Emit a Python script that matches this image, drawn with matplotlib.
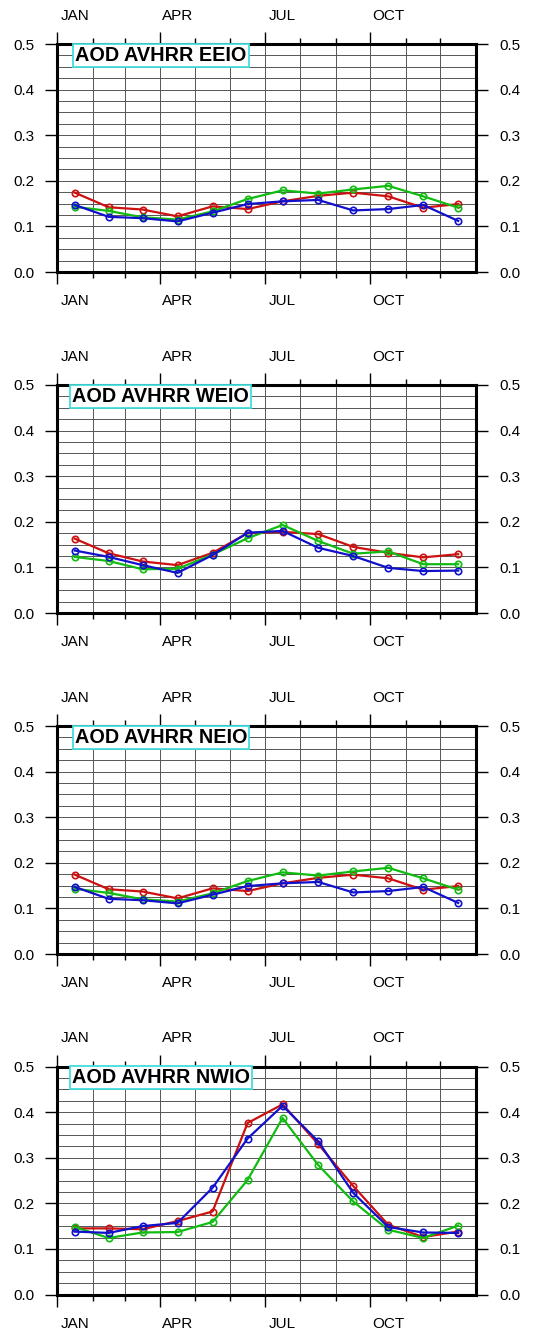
import matplotlib
matplotlib.use("Agg")
import matplotlib.pyplot as plt
import numpy as np

plt.rcParams.update({"font.family": ["Liberation Sans", "DejaVu Sans"]})

# month layout (day-of-year axis, non-leap year)
month_days = [31, 28, 31, 30, 31, 30, 31, 31, 30, 31, 30, 31]
month_names = ["JAN", "FEB", "MAR", "APR", "MAY", "JUN",
               "JUL", "AUG", "SEP", "OCT", "NOV", "DEC"]
labelled = ["JAN", "APR", "JUL", "OCT"]

# monthly AOD, three series per region
eeio_red = [0.174, 0.142, 0.137, 0.122, 0.144, 0.138, 0.155, 0.167, 0.174, 0.166, 0.141, 0.149]
eeio_green = [0.143, 0.134, 0.120, 0.115, 0.133, 0.160, 0.179, 0.172, 0.181, 0.189, 0.166, 0.141]
eeio_blue = [0.147, 0.121, 0.118, 0.111, 0.130, 0.149, 0.155, 0.158, 0.135, 0.138, 0.147, 0.112]

weio_red = [0.163, 0.131, 0.113, 0.105, 0.132, 0.175, 0.178, 0.173, 0.145, 0.132, 0.122, 0.129]
weio_green = [0.123, 0.114, 0.096, 0.097, 0.128, 0.164, 0.193, 0.158, 0.130, 0.135, 0.107, 0.107]
weio_blue = [0.137, 0.123, 0.105, 0.088, 0.127, 0.176, 0.180, 0.143, 0.125, 0.099, 0.092, 0.093]

neio_red = [0.174, 0.142, 0.137, 0.122, 0.144, 0.138, 0.155, 0.167, 0.174, 0.166, 0.141, 0.149]
neio_green = [0.143, 0.134, 0.120, 0.115, 0.133, 0.160, 0.179, 0.172, 0.181, 0.189, 0.166, 0.141]
neio_blue = [0.147, 0.121, 0.118, 0.111, 0.130, 0.149, 0.155, 0.158, 0.135, 0.138, 0.147, 0.112]

nwio_red = [0.145, 0.145, 0.143, 0.161, 0.182, 0.376, 0.417, 0.330, 0.238, 0.153, 0.126, 0.138]
nwio_green = [0.148, 0.124, 0.136, 0.137, 0.159, 0.251, 0.387, 0.284, 0.204, 0.142, 0.124, 0.151]
nwio_blue = [0.138, 0.135, 0.150, 0.157, 0.234, 0.342, 0.414, 0.336, 0.223, 0.148, 0.136, 0.135]

panels = [
    ("AOD AVHRR EEIO", eeio_red, eeio_green, eeio_blue),
    ("AOD AVHRR WEIO", weio_red, weio_green, weio_blue),
    ("AOD AVHRR NEIO", neio_red, neio_green, neio_blue),
    ("AOD AVHRR NWIO", nwio_red, nwio_green, nwio_blue),
]

RED = "#CC1111"
GREEN = "#11BB11"
BLUE = "#1111CC"
CYAN = "#44DDDD"

starts = np.concatenate([[0], np.cumsum(month_days)[:-1]])
mids = starts + np.array(month_days) / 2.0
major_x = [starts[month_names.index(m)] for m in labelled]
minor_x = [s for s in starts if s not in major_x]
label_x = [mids[month_names.index(m)] for m in labelled]

W, H = 539, 1330
fig = plt.figure(figsize=(W / 100, H / 100), dpi=100)

tops = [44, 385, 726, 1066.5]
ax_h = 228
ax_l, ax_w = 57, 419

for top, (title, red, green, blue) in zip(tops, panels):
    ax = fig.add_axes([ax_l / W, 1 - (top + ax_h) / H, ax_w / W, ax_h / H])
    ax.set_xlim(0, 365)
    ax.set_ylim(0, 0.5)

    # grid: month starts and every 0.025
    for x in starts[1:]:
        ax.axvline(x, color="#555555", lw=0.7, zorder=1)
    for y in np.arange(0.025, 0.5, 0.025):
        ax.axhline(y, color="#555555", lw=0.7, zorder=1)

    for vals, c in ((red, RED), (green, GREEN), (blue, BLUE)):
        ax.plot(mids, vals, color=c, lw=1.6, marker="o", ms=4.6,
                mfc="none", mec=c, mew=1.2, zorder=3, clip_on=False)

    ax.set_xticks(major_x)
    ax.set_xticks(minor_x, minor=True)
    ax.set_xticklabels([])
    ax.set_yticks(np.arange(0, 0.51, 0.1))
    ax.set_yticklabels([f"{v:.1f}" for v in np.arange(0, 0.51, 0.1)])
    ax.tick_params(axis="x", which="major", direction="out", length=8.5,
                   width=1.0, top=True, bottom=True)
    ax.tick_params(axis="x", which="minor", direction="out", length=4,
                   width=1.0, top=True, bottom=True)
    ax.tick_params(axis="y", which="major", direction="out", length=8.5,
                   width=1.0, left=True, right=True, labelleft=True,
                   labelright=True, labelsize=11, pad=8)

    for m, x in zip(labelled, label_x):
        ax.annotate(m, xy=(x, 1), xycoords=("data", "axes fraction"),
                    xytext=(0, 20.5), textcoords="offset points",
                    ha="center", va="center", fontsize=11)
        ax.annotate(m, xy=(x, 0), xycoords=("data", "axes fraction"),
                    xytext=(0, -21), textcoords="offset points",
                    ha="center", va="center", fontsize=11)

    for s in ax.spines.values():
        s.set_linewidth(2.2)
        s.set_zorder(5)

    ax.text(0.248, 0.951, title, transform=ax.transAxes, ha="center",
            va="center", fontsize=14.3, fontweight="bold", zorder=6,
            bbox=dict(boxstyle="square,pad=0.1", fc="white", ec=CYAN, lw=1.3))

fig.savefig("out.png", dpi=100)
